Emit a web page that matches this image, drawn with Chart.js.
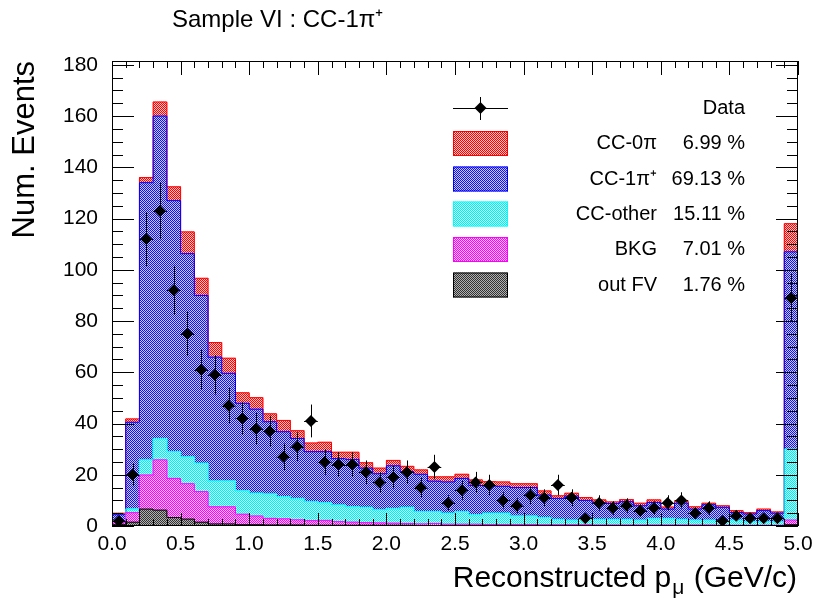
<!DOCTYPE html>
<html>
<head>
<meta charset="utf-8">
<script src="https://cdn.jsdelivr.net/npm/chart.js@4.4.1/dist/chart.umd.min.js"></script>
<style>
  html, body { margin: 0; padding: 0; background: #fff; }
  #wrap { width: 821px; height: 606px; }
</style>
</head>
<body>
<div id="wrap"><canvas id="c" width="821" height="606"></canvas></div>
<script>
// Histogram: 50 bins of 0.1 GeV/c between 0 and 5
const nBins = 50;
const binWidth = 0.1;
const xTickLabels = ['0.0', '0.5', '1.0', '1.5', '2.0', '2.5', '3.0', '3.5', '4.0', '4.5', '5.0'];
const yTickLabels = ['0', '20', '40', '60', '80', '100', '120', '140', '160', '180'];

// stacked MC components, bottom to top
const outFV = [0.5, 1.5, 6.6, 6.2, 3.3, 2.7, 1.5, 0.8, 0.8, 0.5,
  0.5, 0.4, 0.4, 0.4, 0.3, 0.3, 0.3, 0.3, 0.3, 0.3,
  0.3, 0.3, 0.2, 0.2, 0.2, 0.2, 0.2, 0.2, 0.2, 0.2,
  0.2, 0.2, 0.2, 0.2, 0.1, 0.1, 0.1, 0.1, 0.1, 0.1,
  0.1, 0.1, 0.1, 0.1, 0.1, 0.1, 0.1, 0.1, 0.1, 0.5];
const bkg = [0.7, 3.7, 13.3, 19.6, 15.3, 13.8, 11.9, 6.7, 6.7, 4.1,
  3.4, 2.6, 2.4, 2.0, 1.8, 1.9, 1.4, 1.2, 1.0, 0.9,
  0.8, 0.7, 0.6, 0.8, 0.5, 0.5, 0.5, 0.4, 0.4, 0.4,
  0.4, 0.3, 0.3, 0.3, 0.4, 0.3, 0.3, 0.3, 0.3, 0.3,
  0.3, 0.3, 0.3, 0.3, 0.2, 0.2, 0.2, 0.2, 0.2, 1.8];
const ccOther = [0.6, 1.5, 5.9, 8.4, 10.4, 10.5, 11.1, 10.1, 10.1, 9.2,
  8.9, 9.5, 8.7, 8.4, 7.4, 6.9, 6.5, 6.0, 6.0, 5.1,
  5.8, 6.3, 4.8, 4.6, 4.3, 4.9, 3.8, 4.4, 4.4, 3.3,
  3.3, 2.8, 2.1, 1.8, 2.5, 2.2, 2.2, 2.2, 1.9, 2.6,
  2.6, 2.2, 1.9, 1.9, 1.8, 2.0, 1.4, 1.4, 1.4, 27.7];
const cc1pi = [2.6, 33.8, 108.2, 125.8, 98.0, 79.3, 65.5, 48.3, 42.0, 34.1,
  32.8, 28.2, 25.3, 23.4, 19.5, 19.9, 18.1, 18.5, 15.3, 14.1,
  16.6, 13.9, 14.6, 11.9, 12.2, 13.0, 11.3, 10.6, 10.5, 11.1,
  11.1, 8.8, 8.2, 9.4, 7.0, 6.5, 6.2, 6.9, 5.6, 6.2,
  3.6, 6.3, 4.3, 6.0, 5.2, 3.0, 3.0, 4.3, 3.3, 77.0];
const cc0pi = [0.6, 1.3, 2.0, 5.5, 5.4, 8.5, 6.7, 5.7, 5.9, 4.1,
  4.5, 3.1, 4.4, 3.0, 3.4, 3.7, 2.5, 2.8, 2.1, 2.2,
  2.1, 2.1, 1.7, 1.7, 2.0, 1.6, 2.2, 1.7, 1.7, 1.5,
  1.5, 1.6, 1.0, 1.1, 1.1, 1.1, 0.6, 0.8, 1.0, 1.0,
  0.8, 0.7, 0.9, 0.6, 0.6, 0.7, 0.5, 0.6, 0.5, 11.0];

// observed counts
const dataCounts = [2, 20, 112, 123, 92, 75, 61, 59, 47, 42,
  38, 37, 27, 31, 41, 25, 24, 24, 21, 17,
  19, 21, 15, 23, 9, 14, 17, 16, 10, 8,
  12, 11, 16, 11, 3, 9, 7, 8, 6, 7,
  9, 10, 5, 7, 2, 4, 3, 3, 3, 89];

const legendNames = ['CC-0π', 'CC-1π⁺', 'CC-other', 'BKG', 'out FV'];
const legendPercents = ['6.99 %', '69.13 %', '15.11 %', '7.01 %', '1.76 %'];

const FONT = '"Liberation Sans", Arial, Helvetica, sans-serif';
const ctx = document.getElementById('c').getContext('2d');

// ROOT-like dotted fill
function makePattern(c1, c2) {
  const p = document.createElement('canvas');
  p.width = 2; p.height = 2;
  const g = p.getContext('2d');
  g.fillStyle = c2; g.fillRect(0, 0, 2, 2);
  g.fillStyle = c1; g.fillRect(0, 0, 1, 1); g.fillRect(1, 1, 1, 1);
  return ctx.createPattern(p, 'repeat');
}

const comps = [
  { name: 'out FV', values: outFV, line: '#000000', fill: makePattern('#333333', '#b0b0b0') },
  { name: 'BKG', values: bkg, line: '#ff00ff', fill: makePattern('#ff00ff', '#ffc4ff') },
  { name: 'CC-other', values: ccOther, line: '#00ffff', fill: makePattern('#00f0f0', '#c4ffff') },
  { name: 'CC-1π⁺', values: cc1pi, line: '#0000ff', fill: makePattern('#1010f0', '#c8c8f4') },
  { name: 'CC-0π', values: cc0pi, line: '#ff0000', fill: makePattern('#ff0000', '#ffc4c4') }
];

const binCenters = Array.from({ length: nBins }, (_, i) => (i + 0.5) * binWidth);

// outlines of every stack level as step lines
const cumulative = [];
let running = new Array(nBins).fill(0);
comps.forEach(c => {
  running = running.map((v, i) => v + c.values[i]);
  cumulative.push(running.slice());
});

const datasets = [];
comps.forEach(c => {
  datasets.push({
    type: 'bar', label: c.name,
    data: c.values.map((v, i) => ({ x: binCenters[i], y: v })),
    backgroundColor: c.fill, borderWidth: 0,
    barPercentage: 1, categoryPercentage: 1, grouped: false,
    xAxisID: 'x', yAxisID: 'y', order: 3
  });
});
comps.forEach((c, k) => {
  const pts = [{ x: 0, y: 0 }];
  cumulative[k].forEach((v, i) => pts.push({ x: i * binWidth, y: v }));
  pts.push({ x: nBins * binWidth, y: cumulative[k][nBins - 1] });
  datasets.push({
    type: 'line', label: c.name + ' outline', data: pts,
    stepped: true, borderColor: c.line, borderWidth: 1,
    pointRadius: 0, fill: false,
    xAxisID: 'x', yAxisID: 'y2', order: 2
  });
});
datasets.push({
  type: 'scatter', label: 'Data',
  data: dataCounts.map((n, i) => ({ x: binCenters[i], y: n })),
  pointStyle: 'rectRot', pointRadius: 6, backgroundColor: '#000', borderWidth: 0,
  xAxisID: 'x', yAxisID: 'y2', order: 1
});
const dataIndex = datasets.length - 1;

const errorBars = {
  id: 'errorBars',
  beforeDatasetDraw(chart, args) {
    if (args.index !== dataIndex) return;
    const c = chart.ctx, xs = chart.scales.x, ys = chart.scales.y2;
    c.save();
    c.strokeStyle = '#000';
    c.lineWidth = 1;
    dataCounts.forEach((n, i) => {
      const xc = binCenters[i];
      const e = Math.sqrt(n);
      const px = Math.round(xs.getPixelForValue(xc)) + 0.5;
      const py = Math.round(ys.getPixelForValue(n)) + 0.5;
      c.beginPath();
      c.moveTo(px, ys.getPixelForValue(n - e));
      c.lineTo(px, ys.getPixelForValue(n + e));
      c.moveTo(xs.getPixelForValue(xc - binWidth / 2), py);
      c.lineTo(xs.getPixelForValue(xc + binWidth / 2), py);
      c.stroke();
    });
    c.restore();
  }
};

const frameAndDecor = {
  id: 'frameAndDecor',
  afterDraw(chart) {
    const c = chart.ctx, a = chart.chartArea;
    const xs = chart.scales.x, ys = chart.scales.y;
    c.save();
    c.strokeStyle = '#000';
    c.lineWidth = 1;
    c.strokeRect(a.left + 0.5, a.top + 0.5, a.right - a.left - 1, a.bottom - a.top - 1);

    // inner ticks, ROOT style
    c.beginPath();
    for (let k = 0; k <= 36; k++) {
      const py = Math.round(ys.getPixelForValue(k * 5)) + 0.5;
      const len = (k % 4 === 0) ? 22 : 11;
      c.moveTo(a.left, py); c.lineTo(a.left + len, py);
      c.moveTo(a.right, py); c.lineTo(a.right - len, py);
    }
    for (let k = 0; k <= 50; k++) {
      const px = Math.round(xs.getPixelForValue(k * 0.1)) + 0.5;
      const major = (k % 5 === 0);
      c.moveTo(px, a.bottom); c.lineTo(px, a.bottom - (major ? 13 : 7));
      c.moveTo(px, a.top); c.lineTo(px, a.top + (major ? 14 : 7));
    }
    c.stroke();

    // main title
    c.fillStyle = '#000';
    c.textBaseline = 'alphabetic';
    c.textAlign = 'left';
    c.font = `24px ${FONT}`;
    c.fillText('Sample VI : CC-1π⁺', 172, 27);

    // x axis title with subscript
    const main = 'Reconstructed p', tail = ' (GeV/c)', sub = 'μ';
    c.font = `30px ${FONT}`;
    const wMain = c.measureText(main).width, wTail = c.measureText(tail).width;
    c.font = `21px ${FONT}`;
    const wSub = c.measureText(sub).width;
    const x0 = 797 - (wMain + wSub + wTail + 2);
    c.font = `30px ${FONT}`;
    c.fillText(main, x0, 587);
    c.font = `21px ${FONT}`;
    c.fillText(sub, x0 + wMain + 1, 594);
    c.font = `30px ${FONT}`;
    c.fillText(tail, x0 + wMain + wSub + 2, 587);

    // legend
    c.font = `20px ${FONT}`;
    c.textBaseline = 'middle';
    c.beginPath();
    c.moveTo(453, 108.5); c.lineTo(508, 108.5);
    c.moveTo(480.5, 97); c.lineTo(480.5, 120);
    c.stroke();
    c.beginPath();
    c.moveTo(480.5, 102); c.lineTo(486.5, 108); c.lineTo(480.5, 114); c.lineTo(474.5, 108);
    c.closePath(); c.fill();
    c.textAlign = 'right';
    c.fillText('Data', 745, 108);

    const rowY = [143.5, 179, 214, 249.5, 285];
    const legendComps = comps.slice().reverse();
    legendComps.forEach((comp, k) => {
      const cy = rowY[k];
      c.fillStyle = comp.fill;
      c.fillRect(453, cy - 12.5, 55, 25);
      c.strokeStyle = comp.line;
      c.strokeRect(453.5, cy - 12, 54, 24);
      c.fillStyle = '#000';
      c.fillText(legendNames[k], 657, cy);
      c.fillText(legendPercents[k], 745, cy);
    });
    c.restore();
  }
};

new Chart(ctx, {
  type: 'bar',
  data: { datasets: datasets },
  options: {
    responsive: false,
    animation: false,
    devicePixelRatio: 1,
    layout: { padding: { top: 61, right: 23, bottom: 0, left: 0 } },
    scales: {
      x: {
        type: 'linear', position: 'bottom', min: 0, max: 5, offset: false, stacked: true,
        grid: { display: false, drawTicks: false, offset: false },
        border: { display: false },
        ticks: {
          stepSize: 0.5, autoSkip: false, maxRotation: 0, padding: 6,
          color: '#000', font: { family: FONT, size: 21 },
          callback: (v) => xTickLabels[Math.round(v * 2)]
        },
        afterFit: (s) => { s.height = 80; }
      },
      y: {
        type: 'linear', position: 'left', stacked: true, min: 0, max: 181.5,
        grid: { display: false, drawTicks: false },
        border: { display: false },
        ticks: {
          stepSize: 20, includeBounds: false, padding: 14,
          color: '#000', font: { family: FONT, size: 21 },
          callback: (v) => yTickLabels[Math.round(v / 20)]
        },
        title: {
          display: true, text: 'Num. Events', align: 'end', color: '#000',
          font: { family: FONT, size: 31 }, padding: { top: 7, bottom: 0 }
        },
        afterFit: (s) => { s.width = 112; }
      },
      y2: { type: 'linear', display: false, min: 0, max: 181.5 }
    },
    plugins: {
      legend: { display: false },
      tooltip: { enabled: false },
      title: { display: false }
    }
  },
  plugins: [errorBars, frameAndDecor]
});
</script>
</body>
</html>
